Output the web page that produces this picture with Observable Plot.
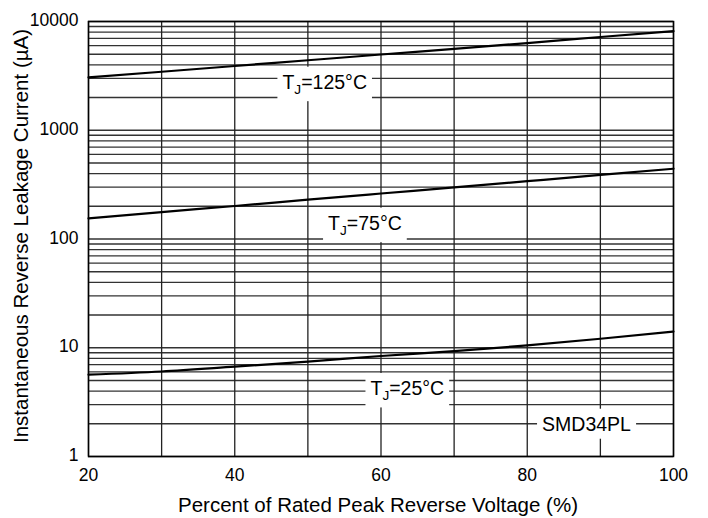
<!DOCTYPE html>
<html>
<head>
<meta charset="utf-8">
<script src="https://cdn.jsdelivr.net/npm/d3@7"></script>
<script src="https://cdn.jsdelivr.net/npm/@observablehq/plot@0.6"></script>
<style>
  html, body { margin: 0; padding: 0; background: #fff; }
  svg { font-family: "Liberation Sans", Arial, sans-serif; }
</style>
</head>
<body>
<div id="chart"></div>
<script>
// Data
const voltage = [20, 30, 40, 50, 60, 70, 80, 90, 100];
const leak125 = [3060, 3450, 3900, 4400, 4970, 5600, 6330, 7200, 8150];
const leak75  = [155, 177, 201, 230, 262, 298, 340, 388, 443];
const leak25  = [5.65, 6.05, 6.7, 7.45, 8.4, 9.3, 10.5, 12.1, 14.1];
const xTicks = [20, 40, 60, 80, 100];
const xGrid = [20, 30, 40, 50, 60, 70, 80, 90, 100];
const yTicks = [1, 10, 100, 1000, 10000];
const mantissas = [1, 2, 3, 4, 5, 6, 7, 8, 9];
const labels = [
  {x: 52.3, y: 2750, text: "TJ=125°C"},
  {x: 57.8, y: 139, text: "TJ=75°C"},
  {x: 63.6, y: 4.2, text: "TJ=25°C"},
  {x: 88.1, y: 1.97, text: "SMD34PL"}
];

const yGrid = yTicks.slice(0, -1).flatMap(d => mantissas.map(m => m * d)).concat([10000]);
const series = [
  ...voltage.map((v, i) => ({x: v, y: leak125[i], s: "125"})),
  ...voltage.map((v, i) => ({x: v, y: leak75[i], s: "75"})),
  ...voltage.map((v, i) => ({x: v, y: leak25[i], s: "25"}))
];

const chart = Plot.plot({
  width: 708,
  height: 518,
  marginLeft: 88,
  marginRight: 35,
  marginTop: 21,
  marginBottom: 62,
  style: {fontFamily: '"Liberation Sans", Arial, sans-serif', fontSize: "17.5px", color: "#000", background: "#fff"},
  x: {domain: [20, 100], label: null},
  y: {type: "log", domain: [1, 10000], label: null},
  marks: [
    Plot.ruleY(yGrid, {stroke: "#333", strokeWidth: 1.3}),
    Plot.ruleX(xGrid, {stroke: "#222", strokeWidth: 1.3}),
    Plot.frame({stroke: "#000", strokeWidth: 1.5}),
    Plot.line(series, {x: "x", y: "y", z: "s", curve: "monotone-x", stroke: "#000", strokeWidth: 2.2}),
    Plot.axisX({ticks: xTicks, tickSize: 0, tickPadding: 12, fontSize: 17.5, label: null}),
    Plot.axisY({ticks: yTicks, tickSize: 0, tickPadding: 10, tickFormat: d => String(d), fontSize: 17.5, label: null, dy: -1}),
    Plot.text(labels, {x: "x", y: "y", text: "text", fontSize: 19.5, fill: "#000", className: "lbl"})
  ]
});

document.getElementById("chart").appendChild(chart);

const svg = d3.select(chart);
// axis titles
svg.append("text")
  .attr("x", 378).attr("y", 512)
  .attr("text-anchor", "middle")
  .attr("font-size", 20.5)
  .text("Percent of Rated Peak Reverse Voltage (%)");
svg.append("text")
  .attr("transform", "translate(28,236) rotate(-90)")
  .attr("text-anchor", "middle")
  .attr("font-size", 20.5)
  .text("Instantaneous Reverse Leakage Current (µA)");

// subscripts and white boxes for curve labels
svg.selectAll("g.lbl text").each(function () {
  const t = d3.select(this);
  const s = t.text();
  if (s.startsWith("TJ")) {
    t.text(null);
    t.append("tspan").text("T");
    t.append("tspan").attr("font-size", "0.7em").attr("dy", "0.4em").text("J");
    t.append("tspan").attr("dy", "-0.28em").text(s.slice(2));
  }
  const b = this.getBBox();
  const tr = this.getAttribute("transform");
  const padX = 5, padY = 5;
  d3.select(this.parentNode).insert("rect", () => this)
    .attr("transform", tr)
    .attr("x", b.x - padX).attr("y", b.y - padY + 1)
    .attr("width", b.width + 2 * padX).attr("height", b.height + 2 * padY - 2)
    .attr("fill", "#fff");
});
</script>
</body>
</html>
